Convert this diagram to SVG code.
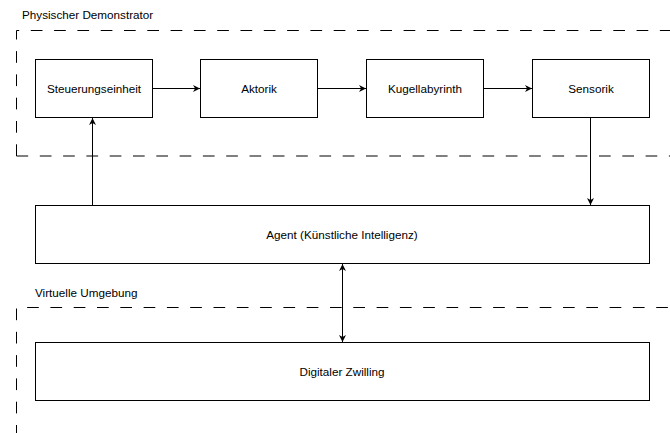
<svg xmlns="http://www.w3.org/2000/svg" width="670" height="433" viewBox="0 0 670 433">
  <style>
    .box { fill: #ffffff; stroke: #000000; stroke-width: 1; }
    .frame { fill: none; stroke: #000000; stroke-width: 1; stroke-dasharray: 11.7 11.6; }
    .lbl { font-family: "Liberation Sans", Arial, sans-serif; font-size: 11.7px; fill: #000000; }
    .mid { text-anchor: middle; dominant-baseline: central; }
    .edge { fill: none; stroke: #000000; stroke-width: 1; }
  </style>
  <defs>
    <marker id="arrow" viewBox="0 0 10 10" refX="10" refY="5" markerWidth="7" markerHeight="7" markerUnits="userSpaceOnUse" orient="auto-start-reverse">
      <path d="M0,0 L10,5 L0,10 L3,5 Z" fill="#000000"/>
    </marker>
  </defs>
  <rect width="670" height="433" fill="#ffffff"/>

  <!-- container: physical demonstrator -->
  <g id="physischer-demonstrator">
    <path class="frame" d="M16.5,156 V30.5 H720"/>
    <path class="frame" d="M16.5,156 H720"/>
    <text class="lbl" x="22" y="19">Physischer Demonstrator</text>
  </g>

  <!-- container: virtual environment -->
  <g id="virtuelle-umgebung">
    <path class="frame" d="M16.5,460 V307.5 H720"/>
    <text class="lbl" x="35" y="297">Virtuelle Umgebung</text>
  </g>

  <g id="steuerungseinheit">
    <rect class="box" x="35.5" y="59.5" width="117" height="58"/>
    <text class="lbl mid" x="94" y="88.5">Steuerungseinheit</text>
  </g>
  <g id="aktorik">
    <rect class="box" x="200.5" y="59.5" width="117" height="58"/>
    <text class="lbl mid" x="259" y="88.5">Aktorik</text>
  </g>
  <g id="kugellabyrinth">
    <rect class="box" x="366.5" y="59.5" width="117" height="58"/>
    <text class="lbl mid" x="425" y="88.5">Kugellabyrinth</text>
  </g>
  <g id="sensorik">
    <rect class="box" x="532.5" y="59.5" width="117" height="58"/>
    <text class="lbl mid" x="591" y="88.5">Sensorik</text>
  </g>
  <g id="agent">
    <rect class="box" x="35.5" y="205.5" width="614" height="58"/>
    <text class="lbl mid" x="342" y="234.5">Agent (Künstliche Intelligenz)</text>
  </g>
  <g id="digitaler-zwilling">
    <rect class="box" x="35.5" y="342.5" width="614" height="58"/>
    <text class="lbl mid" x="342" y="371">Digitaler Zwilling</text>
  </g>

  <g id="connectors">
    <line class="edge" x1="152.5" y1="88.5" x2="200" y2="88.5" marker-end="url(#arrow)"/>
    <line class="edge" x1="317.5" y1="88.5" x2="366" y2="88.5" marker-end="url(#arrow)"/>
    <line class="edge" x1="483.5" y1="88.5" x2="532" y2="88.5" marker-end="url(#arrow)"/>
    <line class="edge" x1="590.5" y1="117.5" x2="590.5" y2="205" marker-end="url(#arrow)"/>
    <line class="edge" x1="92.5" y1="205.5" x2="92.5" y2="118" marker-end="url(#arrow)"/>
    <line class="edge" x1="342.5" y1="264" x2="342.5" y2="342" marker-start="url(#arrow)" marker-end="url(#arrow)"/>
  </g>
</svg>
